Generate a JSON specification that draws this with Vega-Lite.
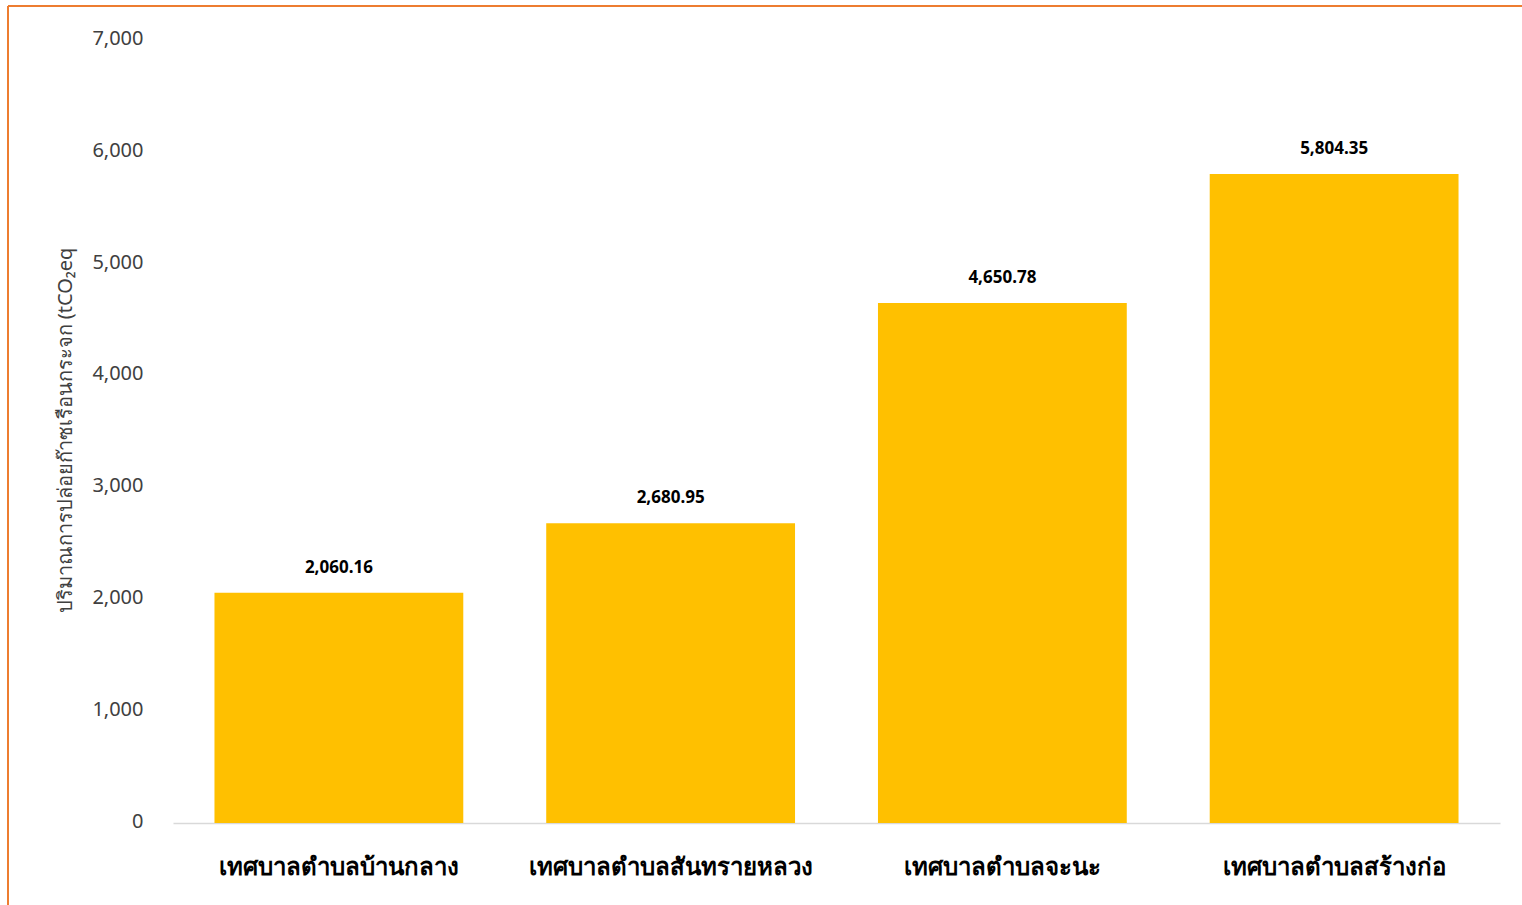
{
  "$schema": "https://vega.github.io/schema/vega-lite/v6.json",
  "width": 1514,
  "height": 899,
  "autosize": "none",
  "padding": {"left": 8, "top": 6, "right": 0, "bottom": 0},
  "background": "white",
  "config": {
    "view": {"stroke": null},
    "font": "Noto Sans"
  },
  "data": {
    "values": [
      {"name": "เทศบาลตำบลบ้านกลาง", "value": 2060.16},
      {"name": "เทศบาลตำบลสันทรายหลวง", "value": 2680.95},
      {"name": "เทศบาลตำบลจะนะ", "value": 4650.78},
      {"name": "เทศบาลตำบลสร้างก่อ", "value": 5804.35}
    ]
  },
  "layer": [
    {
      "encoding": {
        "x": {
          "field": "name",
          "type": "nominal",
          "sort": null,
          "scale": {"range": [165, 1492], "paddingInner": 0.25, "paddingOuter": 0.125},
          "axis": {
            "title": null,
            "orient": "bottom",
            "offset": -82,
            "domainColor": "#D9D9D9",
            "domainWidth": 1.5,
            "ticks": false,
            "labelAngle": 0,
            "labelFontSize": 24,
            "labelFontWeight": "bold",
            "labelColor": "#000000",
            "labelPadding": 32,
            "labelLimit": 0
          }
        },
        "y": {
          "field": "value",
          "type": "quantitative",
          "scale": {"domain": [-733, 7308], "nice": false, "zero": false},
          "axis": {
            "orient": "left",
            "offset": -142,
            "values": [0, 1000, 2000, 3000, 4000, 5000, 6000, 7000],
            "format": ",d",
            "domain": false,
            "ticks": false,
            "grid": false,
            "labelFontSize": 20,
            "labelColor": "#404040",
            "labelPadding": 7,
            "labelOffset": -2,
            "title": "ปริมาณการปล่อยก๊าซเรือนกระจก (tCO₂eq",
            "titleFontSize": 20,
            "titleFontWeight": "normal",
            "titleColor": "#404040",
            "titleX": -75,
            "titleY": 424,
            "titleAngle": -90
          }
        }
      },
      "layer": [
        {
          "mark": {"type": "bar", "color": "#FFC000"},
          "encoding": {"y2": {"datum": 0}}
        },
        {
          "mark": {"type": "text", "fontSize": 17, "fontWeight": "bold", "color": "#000000", "baseline": "alphabetic", "dy": -20},
          "encoding": {
            "text": {"field": "value", "type": "quantitative", "format": ",.2f"}
          }
        }
      ]
    },
    {
      "mark": {"type": "rule", "color": "#ED7D31", "strokeWidth": 1.75, "clip": false},
      "encoding": {
        "y": {"datum": 7308, "type": "quantitative"}
      }
    },
    {
      "mark": {"type": "rule", "color": "#ED7D31", "strokeWidth": 1.75, "clip": false},
      "encoding": {
        "x": {"datum": 0, "type": "quantitative", "scale": {"domain": [0, 1]}, "axis": null}
      }
    }
  ],
  "resolve": {"scale": {"x": "independent"}}
}
